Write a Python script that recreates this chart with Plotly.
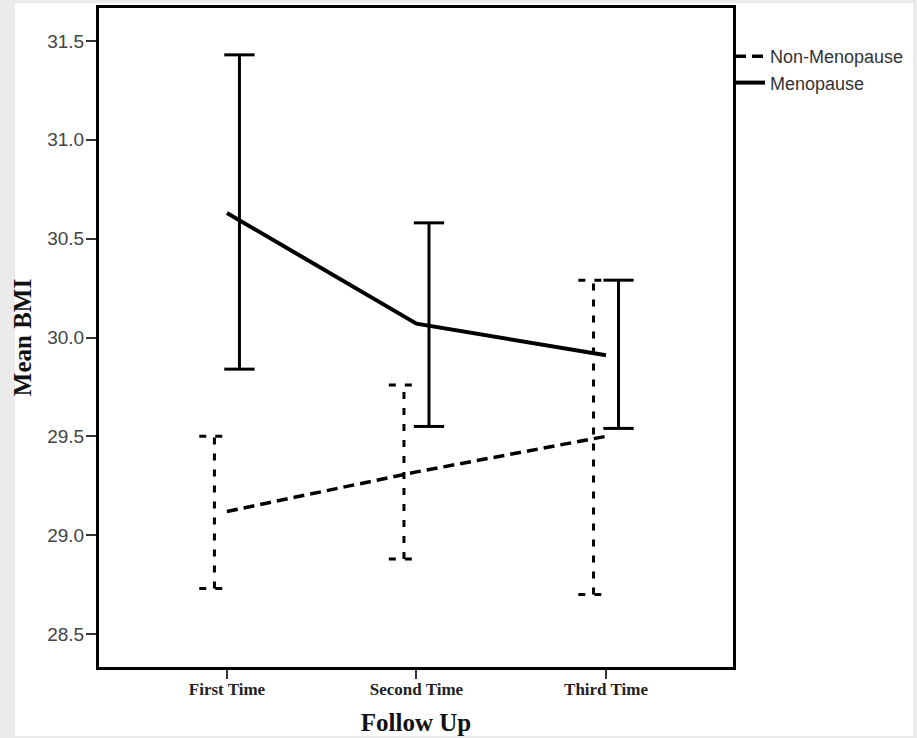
import plotly.graph_objects as go

categories = ["First Time", "Second Time", "Third Time"]
groups = ["Non-Menopause", "Menopause"]

non_meno_mean = [29.12, 29.32, 29.50]
non_meno_low = [28.73, 28.88, 28.70]
non_meno_high = [29.50, 29.76, 30.29]

meno_mean = [30.63, 30.07, 29.91]
meno_low = [29.84, 29.55, 29.54]
meno_high = [31.43, 30.58, 30.29]

y_ticks = [28.5, 29.0, 29.5, 30.0, 30.5, 31.0, 31.5]

xpos = list(range(len(categories)))
OFF = 0.066   # cluster offset of the error bars
CAP = 0.08    # half cap width


def errbar_path(low, high, off):
    xs, ys = [], []
    for i, (lo, hi) in enumerate(zip(low, high)):
        xc = xpos[i] + off
        xs += [xc, xc, None, xc - CAP, xc + CAP, None, xc - CAP, xc + CAP, None]
        ys += [lo, hi, None, hi, hi, None, lo, lo, None]
    return xs, ys


fig = go.Figure()

# error bars
ex, ey = errbar_path(non_meno_low, non_meno_high, -OFF)
fig.add_trace(go.Scatter(x=ex, y=ey, mode="lines", showlegend=False, hoverinfo="skip",
                         line=dict(color="black", width=3, dash="7px,9px")))
ex, ey = errbar_path(meno_low, meno_high, OFF)
fig.add_trace(go.Scatter(x=ex, y=ey, mode="lines", showlegend=False, hoverinfo="skip",
                         line=dict(color="black", width=3)))

# mean lines
fig.add_trace(go.Scatter(x=xpos, y=non_meno_mean, mode="lines", name=groups[0],
                         line=dict(color="black", width=3.5, dash="11px,6px")))
fig.add_trace(go.Scatter(x=xpos, y=meno_mean, mode="lines", name=groups[1],
                         line=dict(color="black", width=4)))

L, R, T, B = 99, 184, 8, 71
W, H = 917, 738
pw, ph = W - L - R, H - T - B
# white panel inside a light gray frame
fig.add_shape(type="rect", xref="paper", yref="paper", layer="below",
              x0=(15 - L) / pw, x1=(913 - L) / pw,
              y0=(H - B - 736) / ph, y1=(H - B - 3) / ph,
              fillcolor="white", line_width=0)

fig.update_layout(
    width=W, height=H,
    margin=dict(l=L, r=R, t=T, b=B, autoexpand=False),
    paper_bgcolor="#ebebeb",
    plot_bgcolor="white",
    showlegend=True,
    legend=dict(x=1 - 3 / pw, xanchor="left", y=1 - 30 / ph, yanchor="top",
                font=dict(family="Liberation Sans", size=18, color="#333333"),
                bgcolor="rgba(0,0,0,0)", tracegroupgap=0, itemwidth=30,
                borderwidth=0),
    xaxis=dict(
        range=[-0.675, 2.67],
        tickmode="array", tickvals=xpos, ticktext=categories,
        showgrid=False, zeroline=False, automargin=False,
        showline=True, linecolor="black", linewidth=3, mirror=True,
        ticks="outside", ticklen=9, tickwidth=2, tickcolor="#333333",
        ticklabelstandoff=-4,
        tickfont=dict(family="Liberation Serif", size=17, color="#222222", weight="bold"),
        title=dict(text="<b>Follow Up</b>", standoff=16,
                   font=dict(family="Liberation Serif", size=25, color="#111111")),
    ),
    yaxis=dict(
        range=[28.333, 31.667],
        tickmode="array", tickvals=y_ticks, ticktext=[f"{v:.1f}" for v in y_ticks],
        showgrid=False, zeroline=False, automargin=False,
        showline=True, linecolor="black", linewidth=3, mirror=True,
        ticks="outside", ticklen=10, tickwidth=2, tickcolor="#333333",
        ticklabelstandoff=-2,
        tickfont=dict(family="Liberation Sans", size=19, color="#444444"),
        title=dict(text="<b>Mean BMI</b>", standoff=9,
                   font=dict(family="Liberation Serif", size=25, color="#111111")),
    ),
)

fig.write_html("out.html", post_script="document.body.style.margin='0';",
               config={"displayModeBar": False})
